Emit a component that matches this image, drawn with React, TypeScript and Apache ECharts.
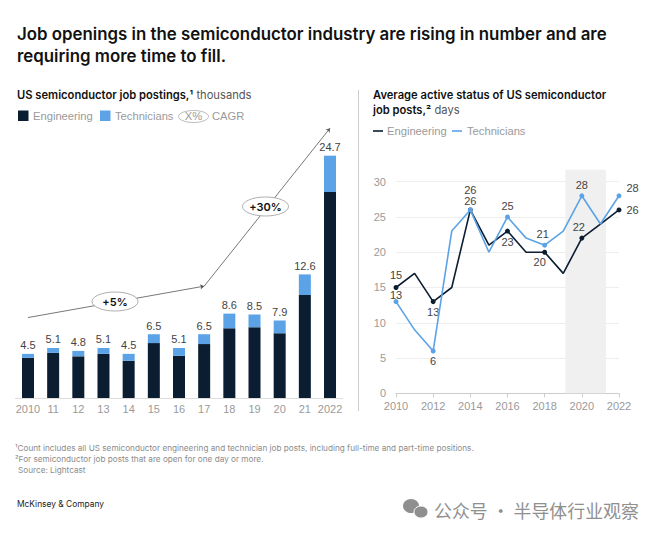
import React, { useEffect, useRef } from "react";
import * as echarts from "echarts";

const barCategories = ["2010", "11", "12", "13", "14", "15", "16", "17", "18", "19", "20", "21", "2022"];
const barEngineering = [4.1, 4.6, 4.25, 4.5, 3.8, 5.6, 4.3, 5.5, 7.1, 7.2, 6.6, 10.5, 21.0];
const barTechnicians = [0.4, 0.5, 0.55, 0.6, 0.7, 0.9, 0.8, 1.0, 1.5, 1.3, 1.3, 2.1, 3.7];
const barTotals = ["4.5", "5.1", "4.8", "5.1", "4.5", "6.5", "5.1", "6.5", "8.6", "8.5", "7.9", "12.6", "24.7"];
const cagrStart = 8.2;
const cagrMid = 11.4;
const cagrEnd = 27.5;

const years = [2010, 2011, 2012, 2013, 2014, 2015, 2016, 2017, 2018, 2019, 2020, 2021, 2022];
const lineEngineering = [15, 17, 13, 15, 26, 21, 23, 20, 20, 17, 22, 24, 26];
const lineTechnicians = [13, 9, 6, 23, 26, 20, 25, 22, 21, 23, 28, 24, 28];
const bandStart = 2019.12;
const bandEnd = 2021.3;
const bandTop = 31.7;

const DARK = "#0b1d30";
const BLUE = "#5ba3e6";
const GREY = "#9a9a9a";
const TEXT = "#444444";
const FONT = "Inter, 'Liberation Sans', sans-serif";
const BODY = "'Liberation Sans', sans-serif";

type Place = { position: string; distance?: number; offset?: number[] };
const engPlaces: Record<number, Place> = {
  2010: { position: "top", distance: 4 },
  2012: { position: "bottom", distance: 2 },
  2014: { position: "top", distance: 12 },
  2016: { position: "bottom", distance: 3 },
  2018: { position: "bottom", distance: 2, offset: [-5, 0] },
  2020: { position: "top", distance: 3, offset: [-3, 0] },
  2022: { position: "right", distance: 5 },
};
const techPlaces: Record<number, Place> = {
  2010: { position: "top", distance: 0, offset: [0, 1] },
  2012: { position: "bottom", distance: 2 },
  2014: { position: "top", distance: 1 },
  2016: { position: "top", distance: 3 },
  2018: { position: "top", distance: 3, offset: [-2, 0] },
  2020: { position: "top", distance: 3 },
  2022: { position: "right", distance: 5, offset: [0, -8] },
};

function lineData(values: number[], places: Record<number, Place>) {
  return years.map((year, i) => {
    const place = places[year];
    return {
      value: [year, values[i]],
      symbolSize: place ? 5 : 0,
      label: place
        ? { show: true, formatter: String(values[i]), color: TEXT, fontSize: 11, fontFamily: BODY, ...place }
        : { show: false },
    };
  });
}

function txt(x: number, y: number, text: string, font: any, extra: any = {}) {
  return {
    type: "text",
    x,
    y,
    z: 100,
    style: { text, fontFamily: FONT, textVerticalAlign: "middle", ...font, ...extra },
  };
}

export default function App() {
  const ref = useRef<HTMLDivElement>(null);
  useEffect(() => {
    document.body.style.margin = "0";
    const chart = echarts.init(ref.current!, undefined, { renderer: "svg" });
    const legendFont = { fontSize: 11.2, fill: GREY, fontFamily: BODY };
    const boldTitle = { fontSize: 11.2, fontWeight: 600, fill: "#111" };
    const footFont = { fontSize: 8.2, fill: "#8c8c8c" };
    const headFont = { fontSize: 16.85, fontWeight: 600, fill: "#111" };
    chart.setOption({
      animation: false,
      backgroundColor: "#ffffff",
      grid: [
        { left: 15.4, width: 327.2, top: 103.7, bottom: 138 },
        { left: 396, right: 41, top: 169.7, bottom: 142.7 },
      ],
      xAxis: [
        {
          type: "category",
          gridIndex: 0,
          data: barCategories,
          axisLine: { lineStyle: { color: "#dddddd" } },
          axisTick: { show: false },
          axisLabel: { color: GREY, fontSize: 11, fontFamily: BODY, margin: 5, interval: 0, hideOverlap: false },
        },
        {
          type: "value",
          gridIndex: 1,
          min: 2010,
          max: 2022,
          interval: 2,
          splitLine: { show: false },
          axisLine: { lineStyle: { color: "#cccccc" } },
          axisTick: { show: true, length: 4, lineStyle: { color: "#cccccc" } },
          axisLabel: { color: GREY, fontSize: 11, fontFamily: BODY, margin: 7, formatter: (v: number) => String(v) },
        },
      ],
      yAxis: [
        { type: "value", gridIndex: 0, min: 0, max: 30, show: false },
        {
          type: "value",
          gridIndex: 1,
          min: 0,
          max: bandTop,
          interval: 5,
          axisLine: { show: false },
          axisTick: { show: false },
          splitLine: { showMaxLine: false, lineStyle: { color: "#eeeeee" } },
          axisLabel: { color: GREY, fontSize: 11, fontFamily: BODY, margin: 10, showMaxLabel: false },
        },
      ],
      series: [
        {
          name: "Engineering",
          type: "bar",
          stack: "jobs",
          xAxisIndex: 0,
          yAxisIndex: 0,
          data: barEngineering,
          barWidth: 12,
          itemStyle: { color: DARK },
        },
        {
          name: "Technicians",
          type: "bar",
          stack: "jobs",
          xAxisIndex: 0,
          yAxisIndex: 0,
          data: barTechnicians,
          barWidth: 12,
          itemStyle: { color: BLUE },
          label: {
            show: true,
            position: "top",
            distance: 3,
            color: TEXT,
            fontSize: 11,
            fontFamily: BODY,
            formatter: (p: any) => barTotals[p.dataIndex],
          },
          markLine: {
            silent: true,
            symbol: ["none", "arrow"],
            symbolSize: 4,
            label: { show: false },
            lineStyle: { color: "#555555", width: 0.8, type: "solid" },
            data: [
              [{ coord: [0, cagrStart] }, { coord: [7, cagrMid] }],
              [{ coord: [7, cagrMid] }, { coord: [12, cagrEnd] }],
            ],
          },
        },
        {
          name: "Engineering",
          type: "line",
          xAxisIndex: 1,
          yAxisIndex: 1,
          symbol: "circle",
          z: 4,
          data: lineData(lineEngineering, engPlaces),
          lineStyle: { color: DARK, width: 1.6 },
          itemStyle: { color: DARK },
          markArea: {
            silent: true,
            itemStyle: { color: "#f0f0f0" },
            data: [[{ xAxis: bandStart, yAxis: 0 }, { xAxis: bandEnd, yAxis: bandTop }]],
          },
        },
        {
          name: "Technicians",
          type: "line",
          xAxisIndex: 1,
          yAxisIndex: 1,
          symbol: "circle",
          z: 5,
          data: lineData(lineTechnicians, techPlaces),
          lineStyle: { color: BLUE, width: 1.6 },
          itemStyle: { color: BLUE },
        },
      ],
      graphic: [
        txt(17, 34, "Job openings in the semiconductor industry are rising in number and are", headFont),
        txt(17, 56, "requiring more time to fill.", headFont),

        {
          type: "text",
          x: 17,
          y: 95,
          z: 100,
          style: {
            text: "{b|US semiconductor job postings,¹} {r|thousands}",
            textVerticalAlign: "middle",
            rich: {
              b: { ...boldTitle, fontFamily: FONT },
              r: { fontSize: 11.2, fill: "#555", fontFamily: FONT },
            },
          },
        },
        { type: "rect", z: 100, shape: { x: 18, y: 110.5, width: 10.5, height: 10.5 }, style: { fill: DARK } },
        txt(33, 116, "Engineering", legendFont),
        { type: "rect", z: 100, shape: { x: 100, y: 110.5, width: 10.5, height: 10.5 }, style: { fill: BLUE } },
        txt(115, 116, "Technicians", legendFont),
        { type: "ellipse", z: 100, shape: { cx: 193.5, cy: 116.5, rx: 15, ry: 6 }, style: { fill: "#fff", stroke: "#aaaaaa", lineWidth: 0.8 } },
        txt(193.5, 116, "X%", legendFont, { textAlign: "center" }),
        txt(212, 116, "CAGR", legendFont),

        { type: "ellipse", z: 100, shape: { cx: 115, cy: 301.5, rx: 23, ry: 9.5 }, style: { fill: "#fff", stroke: "#999999", lineWidth: 0.8 } },
        txt(115, 301.5, "+5%", { fontSize: 11, fontWeight: 600, fill: "#111" }, { textAlign: "center" }),
        { type: "ellipse", z: 100, shape: { cx: 265.5, cy: 206.5, rx: 23, ry: 9.5 }, style: { fill: "#fff", stroke: "#999999", lineWidth: 0.8 } },
        txt(265.5, 206.5, "+30%", { fontSize: 11, fontWeight: 600, fill: "#111" }, { textAlign: "center" }),

        { type: "line", z: 100, shape: { x1: 358.5, y1: 90, x2: 358.5, y2: 411 }, style: { stroke: "#cccccc", lineWidth: 1 } },

        txt(373, 95, "Average active status of US semiconductor", boldTitle),
        {
          type: "text",
          x: 373,
          y: 110,
          z: 100,
          style: {
            text: "{b|job posts,²} {r|days}",
            textVerticalAlign: "middle",
            rich: {
              b: { ...boldTitle, fontFamily: FONT },
              r: { fontSize: 11.2, fill: "#555", fontFamily: FONT },
            },
          },
        },
        { type: "line", z: 100, shape: { x1: 373, y1: 131, x2: 383, y2: 131 }, style: { stroke: DARK, lineWidth: 1.6 } },
        txt(387, 131, "Engineering", legendFont),
        { type: "line", z: 100, shape: { x1: 452, y1: 131, x2: 462, y2: 131 }, style: { stroke: BLUE, lineWidth: 1.6 } },
        txt(467, 131, "Technicians", legendFont),

        txt(15, 448, "¹Count includes all US semiconductor engineering and technician job posts, including full-time and part-time positions.", footFont),
        txt(15, 459, "²For semiconductor job posts that are open for one day or more.", footFont),
        txt(18, 469.5, "Source: Lightcast", footFont),
        txt(17, 503.5, "McKinsey & Company", { fontSize: 8.4, fill: "#222" }),

        { type: "ellipse", z: 100, shape: { cx: 411, cy: 506, rx: 8, ry: 7 }, style: { fill: "#8f8f8f" } },
        { type: "ellipse", z: 101, shape: { cx: 421, cy: 512, rx: 7, ry: 6 }, style: { fill: "#8f8f8f", stroke: "#fff", lineWidth: 1 } },
        txt(434, 509.5, "公众号 · 半导体行业观察", { fontSize: 17.9, fill: "#8f8f8f", fontFamily: "'Noto Sans CJK SC'" }),
      ],
    });
    return () => chart.dispose();
  }, []);
  return <div ref={ref} style={{ width: 660, height: 536 }} />;
}
